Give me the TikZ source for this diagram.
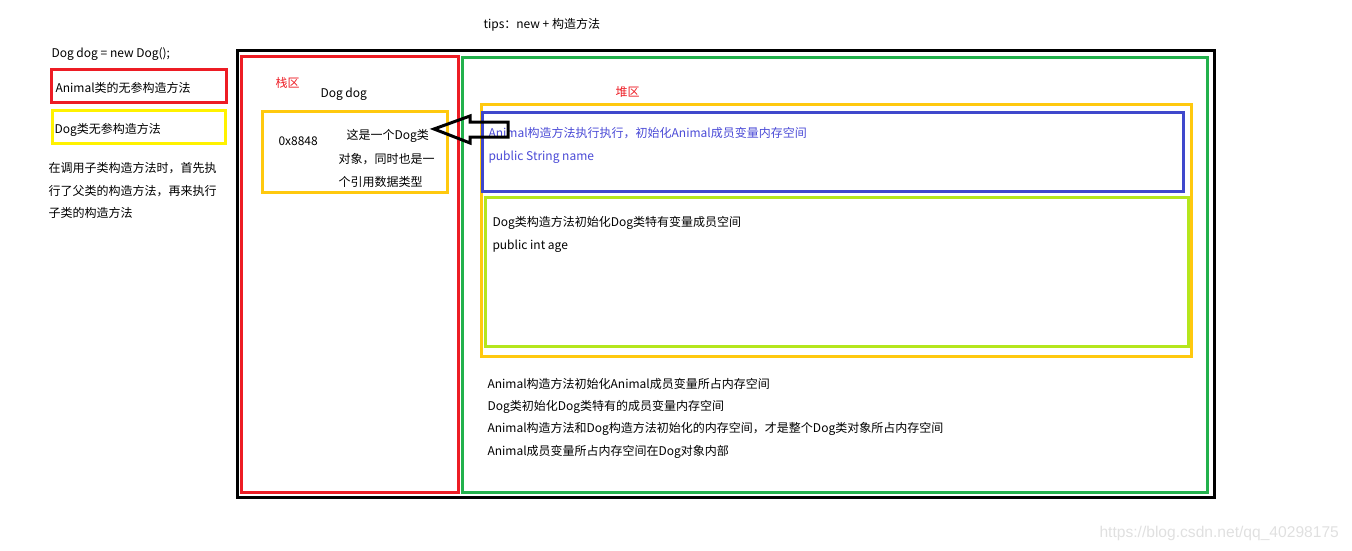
\documentclass[tikz,border=0pt]{standalone}
\usepackage{fontspec}
\setmainfont{Noto Sans CJK SC}
\newfontfamily\markfont{Liberation Sans}
\usetikzlibrary{positioning}

\definecolor{boxred}{HTML}{ED1C24}
\definecolor{boxgreen}{HTML}{22B14C}
\definecolor{boxorange}{HTML}{FFC90E}
\definecolor{boxyellow}{HTML}{FFF200}
\definecolor{boxblue}{HTML}{3F48CC}
\definecolor{boxlime}{HTML}{B5E61D}
\definecolor{textblue}{HTML}{4A4AD6}

\begin{document}
\begin{tikzpicture}[x=1pt, y=-1pt, line width=3pt,
    font=\fontsize{12}{14}\selectfont,
    txt/.style={anchor=west, inner sep=0pt, xshift=-2pt}]

    \useasboundingbox (0,0) rectangle (1352,551);

    % left notes
    \node[txt] (tips) at (484,25) {tips：new + 构造方法};
    \node[txt] (code) at (52,54) {Dog dog = new Dog();};
    \draw[boxred] (51,70) rectangle (226,102);
    \node[txt] (supernote) at (56,88) {Animal类的无参构造方法};
    \draw[boxyellow] (52,110) rectangle (225,143);
    \node[txt] (subnote) at (55,130) {Dog类无参构造方法};
    \node[txt] (order1) at (49,168) {在调用子类构造方法时，首先执};
    \node[txt] (order2) at (49,191) {行了父类的构造方法，再来执行};
    \node[txt] (order3) at (49,213) {子类的构造方法};

    % memory
    \draw (237,51) rectangle (1214,497);
    \draw[boxred] (241,57) rectangle (458,492);
    \draw[boxgreen] (462,58) rectangle (1207,492);

    % stack
    \node[txt, text=boxred] (stack) at (276,83) {栈区};
    \node[txt] (refname) at (321,94) {Dog dog};
    \draw[boxorange] (262,111) rectangle (447,192);
    \node[txt] (addr) at (279,141) {0x8848};
    \node[txt] (ref1) at (347,136) {这是一个Dog类};
    \node[txt] (ref2) at (339,159) {对象，同时也是一};
    \node[txt] (ref3) at (339,182) {个引用数据类型};

    % heap
    \node[txt, text=boxred] (heap) at (616,92) {堆区};
    \draw[boxorange] (481,104) rectangle (1191,356);
    \draw[boxblue] (482,112) rectangle (1183,191);
    \node[txt, text=textblue] (super1) at (489,133) {Animal构造方法执行执行，初始化Animal成员变量内存空间};
    \node[txt, text=textblue] (super2) at (489,157) {public String name};
    \draw[boxlime] (485,197) rectangle (1188,346);
    \node[txt] (sub1) at (493,223) {Dog类构造方法初始化Dog类特有变量成员空间};
    \node[txt] (sub2) at (493,246) {public int age};

    \coordinate (tip) at (434,129);
    \draw[line width=3pt, line join=miter] (tip) -- (470,116) -- (470,122) -- (508,122)
        -- (508,137) -- (470,137) -- (470,143) -- cycle;

    \node[txt] (sum1) at (488,384) {Animal构造方法初始化Animal成员变量所占内存空间};
    \node[txt] (sum2) at (488,407) {Dog类初始化Dog类特有的成员变量内存空间};
    \node[txt] (sum3) at (488,429) {Animal构造方法和Dog构造方法初始化的内存空间，才是整个Dog类对象所占内存空间};
    \node[txt] (sum4) at (488,452) {Animal成员变量所占内存空间在Dog对象内部};

    \node[txt, text=black!12, font=\markfont\fontsize{15.6}{18}\selectfont] (mark) at (1100,533) {https://blog.csdn.net/qq\_40298175};

\end{tikzpicture}
\end{document}
